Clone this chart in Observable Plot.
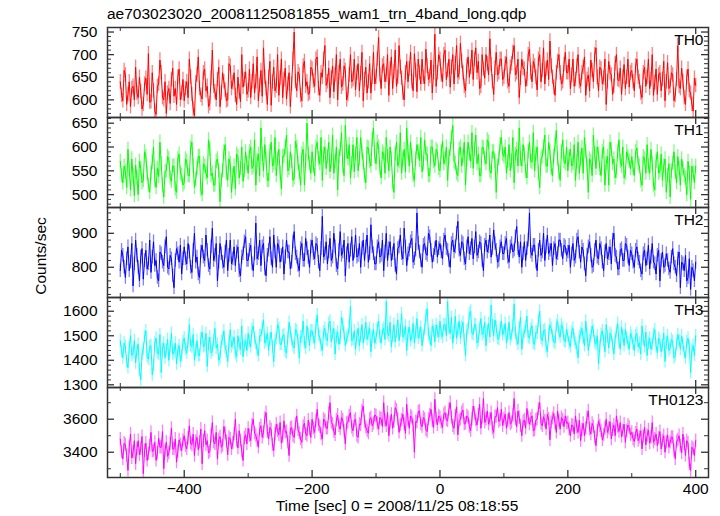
<!DOCTYPE html>
<html>
<head>
<meta charset="utf-8">
<script src="https://cdn.jsdelivr.net/npm/d3@7"></script>
<script src="https://cdn.jsdelivr.net/npm/@observablehq/plot@0.6"></script>
<style>
  body { margin: 0; background: #fff; }
  #chart { position: relative; width: 720px; height: 516px; overflow: hidden;
           font-family: "Liberation Sans", Arial, Helvetica, sans-serif; color: #000; }
  .txt { position: absolute; font-size: 15.5px; line-height: 15.5px; white-space: nowrap; }
  .panel { position: absolute; left: 0; }
</style>
</head>
<body>
<div id="chart">
  <div class="txt" id="title" style="left:107px; top:6px;"></div>
  <div class="txt" id="ylab" style="left:41px; top:256px; transform:translate(-50%,-50%) rotate(-90deg);"></div>
  <div class="txt" id="xlab" style="left:397px; top:498px; transform:translateX(-50%);"></div>
</div>
<script>
// ---- data (1 bin every 2 s, starting at t = -500 s) ----
const startTime = -500;
const binSize = 2;

const th0 = [
640,610,598,665,655,590,612,640,585,625,630,600,672,615,605,650,618,580,590,635,648,612,702,595,596,660,620,575,568,630,635,688,660,605,600,640,570,615,625,592,645,670,608,625,590,650,668,600,615,645,
598,625,640,605,690,650,612,580,565,638,655,695,625,610,602,660,668,620,630,585,592,648,710,630,618,600,645,672,585,615,660,640,622,598,600,680,675,625,638,660,610,590,650,618,596,700,628,645,662,612,
620,668,605,640,680,615,640,695,598,632,665,608,715,650,625,590,650,685,588,640,672,620,630,700,610,648,690,605,645,670,602,635,660,585,635,690,750,640,620,662,655,610,598,675,685,630,640,612,615,672,
668,642,630,690,695,625,610,660,650,690,720,632,640,670,605,648,675,618,655,700,600,660,690,628,635,675,665,600,612,655,700,640,645,690,622,660,680,620,658,705,598,645,672,615,640,680,615,650,705,635,
650,690,738,655,625,675,680,640,655,700,610,668,695,625,662,710,630,650,720,672,648,615,600,660,685,640,668,705,640,620,702,665,618,690,660,635,690,650,635,712,675,645,652,688,615,660,745,630,660,700,
690,655,640,700,710,645,665,690,628,672,700,635,680,720,650,660,725,685,660,630,620,675,695,650,672,710,645,690,715,660,685,625,630,700,668,648,700,680,655,735,678,640,612,670,705,655,660,690,690,645,
650,680,695,640,630,672,680,705,720,655,660,690,605,648,690,670,668,630,645,700,712,660,640,685,675,650,622,690,700,640,665,715,635,668,688,645,730,675,650,628,610,660,685,700,660,635,640,678,705,660,
660,690,625,655,690,630,645,675,700,640,630,660,672,695,610,645,655,620,688,665,640,700,715,650,620,672,668,635,648,690,590,640,685,660,655,612,630,680,700,645,642,670,612,650,678,625,650,690,628,660,
665,640,620,675,690,650,640,615,605,660,672,630,650,690,625,645,700,610,638,668,612,655,660,620,645,685,598,640,682,625,630,660,655,598,610,645,720,630,625,670,640,605,590,650,668,620,615,590,575,648,
632];

const th1 = [
570,540,525,560,548,515,595,552,510,575,540,498,562,535,500,570,555,525,530,590,580,545,520,505,545,568,600,530,515,555,538,610,565,520,495,548,550,580,575,535,528,560,560,512,505,575,585,545,540,520,
525,575,570,540,540,598,610,560,515,532,555,580,580,510,500,565,560,545,535,615,595,540,545,520,520,570,575,550,485,530,550,590,605,545,530,575,565,505,540,560,512,585,580,535,555,600,528,550,590,565,
545,590,600,555,560,615,520,572,585,540,640,585,550,605,575,530,530,590,610,560,565,620,540,575,595,545,512,580,580,600,625,550,555,590,570,530,535,612,600,565,548,520,585,595,520,570,650,585,565,545,
590,560,540,600,610,575,565,620,530,585,600,555,580,610,548,570,625,545,570,600,510,580,595,630,560,540,645,590,575,605,535,565,605,548,585,620,550,575,620,590,568,540,525,600,598,570,560,615,640,580,
565,610,600,555,535,590,585,545,620,580,550,600,575,525,505,585,610,560,570,630,545,575,595,548,640,590,560,610,580,540,530,575,605,590,572,620,548,565,615,585,585,540,540,600,600,570,560,595,590,555,
550,590,612,565,575,600,530,580,595,620,645,570,565,545,540,595,600,560,580,610,520,575,610,585,570,630,555,595,625,565,585,540,540,600,598,575,565,615,610,550,545,590,590,570,505,560,575,605,620,585,
580,600,545,570,605,550,570,620,525,585,595,560,640,575,560,605,585,548,535,590,610,570,568,630,550,585,600,545,515,575,580,600,625,560,560,610,590,555,540,580,605,635,575,548,530,590,615,570,565,600,
550,580,595,560,565,605,530,570,610,545,575,598,545,620,590,560,505,575,570,540,625,585,555,600,585,555,540,590,600,520,565,580,520,610,595,565,575,535,548,590,615,570,560,600,535,545,590,580,570,555,
580,555,540,590,598,565,560,530,520,580,575,545,605,560,545,595,565,520,510,570,590,545,550,585,530,560,575,505,540,565,495,550,565,590,548,525,580,555,520,575,555,540,535,500,570,545,490,560,545,525,
560];

const th2 = [
790,850,835,800,770,825,860,790,815,870,745,810,880,835,800,760,830,855,765,820,850,795,810,880,785,830,875,805,820,770,760,845,840,815,805,860,890,800,795,835,825,775,740,820,855,840,815,865,780,825,
860,825,810,870,845,800,785,850,900,815,830,780,770,845,865,830,820,895,850,805,795,860,915,820,835,870,760,815,870,840,815,800,845,880,790,835,880,810,825,860,805,845,860,790,775,830,840,875,890,820,
820,850,865,810,790,840,930,825,840,880,805,860,870,795,775,835,850,890,825,800,895,845,800,870,860,815,835,860,780,830,880,845,845,795,815,875,905,840,830,805,790,855,870,820,820,885,855,830,800,860,
880,840,825,870,865,815,790,855,950,830,840,875,810,845,885,820,830,900,860,805,795,850,905,835,845,880,775,840,870,815,850,890,820,845,895,830,835,870,800,855,880,820,860,895,815,840,925,860,840,810,
810,860,875,830,835,880,790,845,900,820,855,875,820,840,870,805,780,855,860,895,840,825,915,860,805,840,850,875,885,815,825,850,960,870,845,820,800,865,870,840,835,900,890,850,815,835,855,880,830,855,
870,845,825,880,895,855,850,820,800,870,880,845,860,900,935,850,835,875,870,825,810,860,890,840,855,885,825,860,905,835,845,875,870,820,790,865,880,845,860,895,830,855,910,870,850,815,820,860,875,840,
840,870,885,830,815,860,870,845,850,890,920,855,830,875,800,840,875,820,855,880,960,845,835,865,865,815,790,850,880,835,845,900,820,860,895,840,850,870,805,855,870,825,840,880,880,850,825,865,860,835,
845,865,800,840,870,820,830,880,890,845,815,860,850,810,775,835,860,875,835,800,805,850,880,830,825,870,855,815,790,845,870,825,840,860,810,880,900,835,830,795,795,850,855,820,820,870,865,830,805,850,
840,815,800,850,860,825,815,790,780,840,850,805,825,865,795,830,870,815,810,780,835,850,760,820,845,800,805,840,820,795,785,830,855,810,800,775,825,845,740,815,810,790,835,760,770,825,735,800,790,760,
815];

const th3 = [
1480,1435,1410,1470,1455,1395,1370,1450,1500,1420,1430,1480,1390,1440,1465,1360,1320,1425,1445,1495,1520,1415,1405,1455,1460,1340,1380,1470,1490,1430,1425,1505,1350,1445,1470,1410,1440,1485,1400,1455,1510,1425,1435,1470,1385,1440,1460,1395,1420,1475,
1490,1445,1430,1475,1545,1460,1455,1505,1400,1440,1480,1420,1420,1490,1515,1455,1460,1510,1375,1465,1495,1430,1440,1480,1530,1450,1465,1400,1410,1475,1485,1520,1450,1435,1395,1470,1525,1455,1470,1495,1430,1415,1500,1465,1445,1540,1415,1460,1480,1440,
1510,1475,1455,1525,1540,1490,1470,1440,1420,1500,1500,1530,1565,1470,1480,1510,1440,1485,1515,1455,1395,1480,1490,1545,1530,1465,1465,1500,1505,1435,1430,1490,1555,1515,1485,1460,1450,1525,1520,1480,1410,1495,1495,1560,1470,1450,1540,1505,1460,1520,
1520,1490,1470,1540,1585,1505,1495,1460,1440,1515,1530,1485,1480,1550,1560,1475,1505,1530,1425,1495,1515,1465,1490,1575,1545,1510,1460,1490,1500,1535,1620,1480,1485,1520,1445,1500,1530,1460,1500,1545,1470,1505,1555,1485,1510,1530,1435,1495,1525,1470,
1490,1530,1560,1495,1470,1520,1530,1485,1640,1510,1500,1555,1455,1500,1545,1475,1515,1565,1480,1520,1590,1495,1505,1540,1440,1510,1535,1480,1495,1550,1470,1515,1570,1490,1510,1535,1460,1500,1525,1580,1610,1505,1490,1460,1540,1520,1475,1545,1515,1495,
1560,1510,1495,1545,1545,1500,1640,1530,1510,1575,1470,1515,1580,1490,1525,1560,1490,1535,1555,1480,1420,1520,1530,1590,1600,1510,1505,1545,1545,1470,1480,1530,1570,1505,1515,1555,1460,1520,1550,1495,1625,1540,1500,1565,1535,1490,1485,1525,1560,1505,
1520,1550,1470,1505,1555,1485,1500,1540,1630,1510,1485,1465,1530,1575,1445,1500,1515,1535,1580,1495,1490,1525,1540,1470,1465,1515,1510,1560,1600,1490,1480,1520,1525,1455,1435,1505,1545,1530,1500,1475,1470,1540,1560,1510,1495,1545,1530,1480,1475,1525,
1500,1470,1455,1515,1530,1485,1470,1450,1410,1495,1510,1530,1490,1460,1560,1505,1440,1480,1495,1540,1520,1475,1465,1500,1385,1455,1505,1520,1480,1435,1545,1495,1450,1510,1500,1465,1425,1490,1515,1550,1475,1445,1535,1500,1460,1525,1490,1470,1445,1510,
1495,1465,1440,1500,1510,1455,1470,1425,1540,1485,1455,1515,1420,1470,1490,1445,1465,1505,1525,1460,1430,1490,1480,1435,1460,1510,1395,1470,1500,1440,1450,1485,1475,1410,1420,1465,1505,1480,1445,1500,1465,1430,1410,1475,1490,1455,1350,1440,1460,1420,
1500];

const th0123 = [
3480,3400,3360,3455,3445,3380,3290,3430,3510,3365,3400,3470,3330,3420,3470,3385,3420,3495,3270,3410,3455,3350,3390,3440,3520,3405,3410,3460,3350,3395,3485,3430,3430,3525,3300,3410,3460,3375,3395,3450,3545,3420,3420,3480,3340,3405,3475,3445,3410,3470,
3500,3440,3420,3485,3560,3455,3445,3510,3380,3465,3490,3415,3460,3540,3330,3470,3530,3445,3470,3395,3405,3500,3580,3460,3450,3520,3360,3475,3495,3430,3440,3555,3515,3465,3385,3490,3480,3420,3455,3510,3600,3470,3425,3530,3470,3405,3350,3485,3505,3450,
3545,3500,3470,3565,3600,3515,3500,3470,3430,3540,3560,3490,3520,3605,3640,3525,3480,3550,3535,3445,3410,3510,3570,3530,3505,3580,3455,3495,3590,3520,3525,3460,3380,3545,3550,3500,3490,3570,3620,3535,3515,3480,3460,3555,3575,3510,3500,3595,3540,3490,
3600,3545,3520,3590,3660,3565,3555,3510,3480,3600,3590,3545,3545,3635,3700,3580,3570,3525,3505,3595,3625,3560,3540,3610,3595,3530,3450,3575,3580,3620,3640,3550,3530,3590,3600,3500,3490,3570,3565,3650,3680,3585,3550,3530,3515,3600,3610,3560,3575,3625,
3620,3575,3540,3610,3600,3555,3700,3590,3560,3640,3500,3580,3630,3545,3585,3670,3655,3600,3520,3565,3595,3630,3570,3515,3690,3595,3545,3620,3610,3560,3400,3585,3580,3645,3650,3570,3555,3610,3600,3535,3525,3600,3625,3660,3590,3550,3720,3605,3565,3620,
3610,3580,3550,3630,3640,3595,3590,3660,3700,3610,3560,3545,3620,3675,3505,3590,3600,3640,3655,3570,3575,3620,3610,3555,3530,3600,3680,3635,3595,3565,3625,3690,3545,3610,3725,3580,3600,3650,3570,3600,3640,3545,3520,3615,3615,3670,3585,3595,3660,3560,
3600,3630,3545,3590,3640,3570,3580,3625,3725,3600,3555,3650,3610,3560,3500,3585,3595,3545,3665,3610,3570,3600,3620,3530,3535,3595,3600,3660,3700,3575,3560,3615,3590,3540,3630,3600,3475,3580,3605,3635,3575,3520,3650,3590,3540,3610,3595,3555,3620,3575,
3580,3540,3500,3565,3560,3510,3620,3550,3520,3595,3470,3535,3575,3500,3545,3610,3650,3540,3510,3575,3555,3490,3440,3530,3590,3560,3530,3475,3505,3545,3600,3520,3545,3585,3480,3535,3565,3500,3620,3555,3525,3580,3495,3530,3570,3460,3530,3565,3550,3505,
3520,3480,3465,3515,3540,3470,3490,3530,3420,3495,3550,3445,3500,3535,3455,3490,3580,3460,3480,3510,3440,3485,3525,3420,3470,3500,3400,3460,3505,3430,3460,3490,3490,3410,3360,3465,3475,3500,3440,3395,3510,3450,3380,3470,3455,3330,3290,3430,3420,3380,
3470];

// typical half-length of the error bars of each series (counts/sec)
const errHalf = [16, 15, 20, 26, 40];

const seriesNames = ["TH0", "TH1", "TH2", "TH3", "TH0123"];
const seriesValues = [th0, th1, th2, th3, th0123];
const seriesColors = ["#ff0000", "#00ff00", "#0000ff", "#00ffff", "#ff00ff"];
const yDomains = [[561, 760], [473, 662], [711, 976], [1289, 1656], [3247, 3792]];
const yMajorTicks = [[600, 650, 700, 750], [500, 550, 600, 650], [800, 900], [1300, 1400, 1500, 1600], [3400, 3600]];
const yMinorStep = [10, 10, 20, 20, 100];
const xDomain = [-520, 420];
const xMajorTicks = [-400, -200, 0, 200, 400];
const xMinorTicks = [-500, -300, -100, 100, 300];

const titleText = "ae703023020_20081125081855_wam1_trn_4band_long.qdp";
const yLabelText = "Counts/sec";
const xLabelText = "Time [sec] 0 = 2008/11/25 08:18:55";

// ---- layout ----
const W = 720, ML = 107, MR = 12, PANEL_TOP = 27, PANEL_H = 90, BOTTOM_M = 30;
const innerW = W - ML - MR;
const frameColor = "#333";
const fmt = d3.format("d");

document.getElementById("title").textContent = titleText;
document.getElementById("ylab").textContent = yLabelText;
document.getElementById("xlab").textContent = xLabelText;

const chart = document.getElementById("chart");

seriesValues.forEach((vals, i) => {
  const e = errHalf[i];
  const data = vals.map((v, k) => ({t: startTime + k * binSize, v, lo: v - e, hi: v + e}));
  const [y0, y1] = yDomains[i];
  const minor = d3.range(Math.ceil(y0 / yMinorStep[i]) * yMinorStep[i], y1, yMinorStep[i])
    .filter(d => !yMajorTicks[i].includes(d));
  const last = i === seriesValues.length - 1;
  const marks = [
    Plot.ruleX(data, {x: "t", y1: "lo", y2: "hi", stroke: seriesColors[i], strokeOpacity: 0.5, strokeWidth: 1.3, clip: true}),
    Plot.line(data, {x: "t", y: "v", stroke: seriesColors[i], strokeWidth: 1, clip: true}),
    // inward y ticks, left and right
    Plot.tickY(yMajorTicks[i], {y: d => d, stroke: frameColor, strokeWidth: 1.3, insetRight: innerW - 7}),
    Plot.tickY(yMajorTicks[i], {y: d => d, stroke: frameColor, strokeWidth: 1.3, insetLeft: innerW - 7}),
    Plot.tickY(minor, {y: d => d, stroke: frameColor, strokeWidth: 1, insetRight: innerW - 4}),
    Plot.tickY(minor, {y: d => d, stroke: frameColor, strokeWidth: 1, insetLeft: innerW - 4}),
    // inward x ticks, top and bottom
    Plot.tickX(xMajorTicks, {x: d => d, stroke: frameColor, strokeWidth: 1.3, insetBottom: PANEL_H - 7}),
    Plot.tickX(xMajorTicks, {x: d => d, stroke: frameColor, strokeWidth: 1.3, insetTop: PANEL_H - 7}),
    Plot.tickX(xMinorTicks, {x: d => d, stroke: frameColor, strokeWidth: 1, insetBottom: PANEL_H - 4}),
    Plot.tickX(xMinorTicks, {x: d => d, stroke: frameColor, strokeWidth: 1, insetTop: PANEL_H - 4}),
    Plot.frame({stroke: frameColor, strokeWidth: 1.5}),
    Plot.axisY({ticks: yMajorTicks[i], tickSize: 0, tickPadding: 10, label: null, tickFormat: fmt}),
    Plot.text([seriesNames[i]], {text: d => d, frameAnchor: "top-right", dx: -5, dy: 6, fill: "#000", fontSize: 15.5})
  ];
  if (last) {
    marks.push(Plot.axisX({ticks: xMajorTicks, tickSize: 0, tickPadding: 5, label: null, tickFormat: fmt}));
  }
  const svg = Plot.plot({
    width: W,
    height: PANEL_H + (last ? BOTTOM_M : 0),
    marginLeft: ML,
    marginRight: MR,
    marginTop: 0,
    marginBottom: last ? BOTTOM_M : 0,
    x: {domain: xDomain, axis: last ? undefined : null},
    y: {domain: yDomains[i]},
    style: {overflow: "visible", fontSize: "15.5px", background: "transparent",
            fontFamily: "'Liberation Sans', Arial, Helvetica, sans-serif", color: "#000"},
    marks
  });
  svg.classList.add("panel");
  svg.style.top = (PANEL_TOP + i * PANEL_H) + "px";
  svg.style.position = "absolute";
  svg.style.left = "0px";
  chart.appendChild(svg);
});
</script>
</body>
</html>
